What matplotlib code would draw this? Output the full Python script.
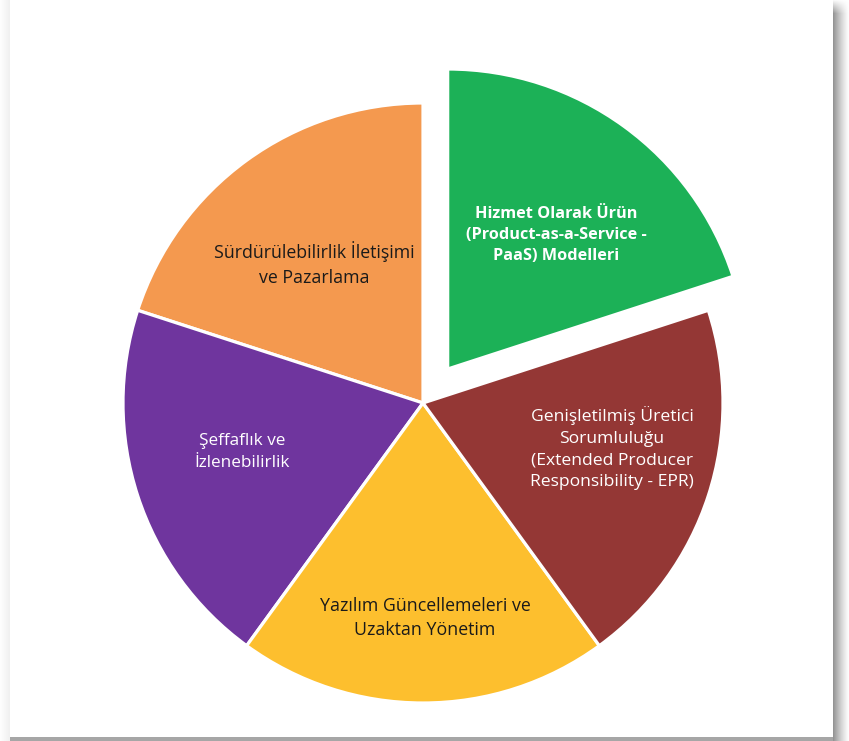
import matplotlib
matplotlib.use("Agg")
from matplotlib import pyplot as plt
from matplotlib.patches import Rectangle

# five equal pillars, counter-clockwise from the exploded one
LABELS = [
    "Hizmet Olarak Ürün\n(Product-as-a-Service -\nPaaS) Modelleri",
    "Sürdürülebilirlik İletişimi\nve Pazarlama",
    "Şeffaflık ve\nİzlenebilirlik",
    "Yazılım Güncellemeleri ve\nUzaktan Yönetim",
    "Genişletilmiş Üretici\nSorumluluğu\n(Extended Producer\nResponsibility - EPR)",
]
VALUES = [20, 20, 20, 20, 20]
COLORS = ["#1CB157", "#F4994F", "#6F359E", "#FDBF2E", "#943735"]
TEXT_COLORS = ["white", "#1a1a1a", "white", "#1a1a1a", "white"]
WEIGHTS = ["bold", "normal", "normal", "normal", "normal"]
SIZES = [11.7, 12.8, 12.3, 12.8, 12.6]
EXPLODE = [42, 0, 0, 0, 0]

W, H = 849, 741
CX, CY, R = 423, H - 403, 300

# label centres in pixel coords (layout only)
LABEL_POS = [(556, H - 235), (314, H - 264), (242, H - 452), (425, H - 618), (612, H - 448)]

fig = plt.figure(figsize=(W / 100, H / 100), dpi=100)
fig.patch.set_facecolor("white")

# card shadow behind everything
bg = fig.add_axes([0, 0, 1, 1])
bg.set_xlim(0, W)
bg.set_ylim(0, H)
bg.axis("off")
for i in range(16):
    a = 0.42 * (1 - i / 16) ** 1.3
    bg.add_patch(Rectangle((833 + i, 0), 1, H - 14, color="black", alpha=a, lw=0))
    # fade towards the top edge
    for j in range(14):
        bg.add_patch(Rectangle((833 + i, H - 14 + j), 1, 1, color="black",
                               alpha=a * (1 - j / 14), lw=0))
for i in range(10):
    a = 0.06 * (1 - i / 10)
    bg.add_patch(Rectangle((9 - i, 0), 1, H, color="black", alpha=a, lw=0))
bg.add_patch(Rectangle((10, 0), 823, 4, color="black", alpha=0.35, lw=0))
bg.add_patch(Rectangle((10, 4), 823, H, color="white", lw=0))

ax = fig.add_axes([0, 0, 1, 1])
ax.pie(VALUES, colors=COLORS, explode=EXPLODE, startangle=18, counterclock=True,
       center=(CX, CY), radius=R, frame=True,
       wedgeprops=dict(edgecolor="white", linewidth=2.3))
ax.set_xlim(0, W)
ax.set_ylim(0, H)
ax.set_aspect("equal")
ax.axis("off")

for text, pos, tc, wt, fs in zip(LABELS, LABEL_POS, TEXT_COLORS, WEIGHTS, SIZES):
    ax.text(pos[0], pos[1], text, ha="center", va="center", color=tc,
            fontsize=fs, fontweight=wt, family=["Open Sans", "DejaVu Sans"],
            linespacing=1.45)

fig.savefig("out.png", dpi=100)
